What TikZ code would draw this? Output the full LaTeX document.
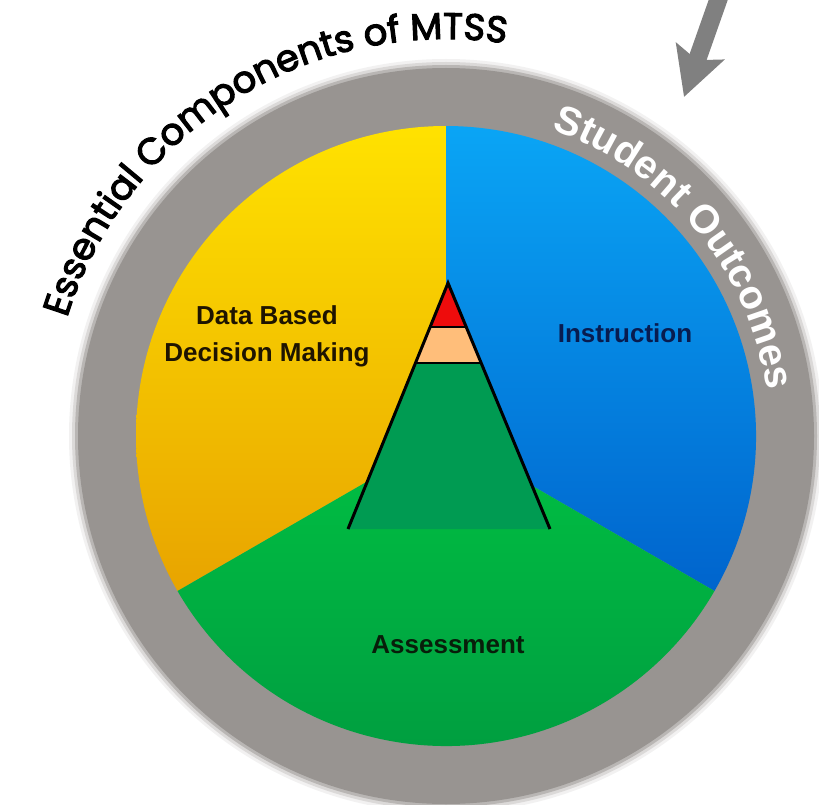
\documentclass[tikz,border=0pt]{standalone}
\usepackage{fontspec}
\setmainfont{Liberation Sans}
\newfontfamily\titlefont{Poppins}[FakeBold=3]
\usetikzlibrary{calc,arrows.meta,decorations.text}

% Define colors
\definecolor{ringgray}{RGB}{152,148,145}
\definecolor{arrowgray}{RGB}{128,128,128}
\definecolor{dbtop}{RGB}{255,226,0}
\definecolor{dbbot}{RGB}{232,164,0}
\definecolor{intop}{RGB}{10,165,245}
\definecolor{inbot}{RGB}{0,100,205}
\definecolor{astop}{RGB}{0,192,66}
\definecolor{asbot}{RGB}{0,154,64}
\definecolor{tierone}{RGB}{0,155,82}
\definecolor{tiertwo}{RGB}{255,190,122}
\definecolor{tierthree}{RGB}{238,12,12}

\tikzset{
  label/.style={font=\fontsize{26pt}{37pt}\selectfont\bfseries, align=center},
  tierline/.style={black, line width=1.8pt},
}

\begin{document}
\begin{tikzpicture}[x=1pt,y=1pt]

	% Page and background
	\useasboundingbox (0,0) rectangle (819,-805);
	\fill[white] (0,0) rectangle (819,-805);

	\coordinate (C) at (446,-436);

	% Draw the gray ring with a soft edge
	\foreach \r/\o in {377/0.12, 374/0.25, 371/0.5} {
		\fill[ringgray, opacity=\o] (C) circle (\r);
	}
	\fill[ringgray] (C) circle (368);

	% Draw the three sectors
	\foreach \a/\b/\ct/\cb in {90/210/dbtop/dbbot, -30/90/intop/inbot, 210/330/astop/asbot} {
		\shade[top color=\ct, bottom color=\cb] (C) -- ([shift={(\a:310)}]C) arc[start angle=\a, end angle=\b, radius=310] -- cycle;
	}

	% Draw the pyramid
	\coordinate (apex) at (448,-283);
	\coordinate (bl) at (348,-529);
	\coordinate (br) at (550,-529);
	\coordinate (rl) at ($(apex)!0.179!(bl)$);
	\coordinate (rr) at ($(apex)!0.179!(br)$);
	\coordinate (ol) at ($(apex)!0.325!(bl)$);
	\coordinate (or) at ($(apex)!0.325!(br)$);
	\fill[tierone] (ol) -- (or) -- (br) -- (bl) -- cycle;
	\fill[tiertwo] (rl) -- (rr) -- (or) -- (ol) -- cycle;
	\fill[tierthree] (apex) -- (rr) -- (rl) -- cycle;
	\draw[tierline] (rl) -- (rr);
	\draw[tierline] (ol) -- (or);
	\draw[black, line width=3pt] (bl) -- (apex) -- (br);

	% Sector labels
	\node[label, text={rgb,255:red,30;green,20;blue,0}] (dbdm) at (267,-336) {Data Based\\Decision Making};
	\node[label, text={rgb,255:red,8;green,28;blue,80}] (instr) at (625,-333) {Instruction};
	\node[label, text={rgb,255:red,8;green,30;blue,10}] (assess) at (448,-645) {Assessment};

	% Texts along the ring
	\path[decorate, decoration={text along path, text align=center,
		text={|\titlefont\fontsize{37pt}{40pt}\selectfont|Essential Components of MTSS}}]
		([shift={(168:397)}]C) arc[start angle=168, end angle=76, radius=397];
	\path[decorate, decoration={text along path, text align=center,
		text={|\color{white}\bfseries\fontsize{40pt}{44pt}\selectfont|Student Outcomes}}]
		([shift={(74:324)}]C) arc[start angle=74, end angle=5, radius=324];

	% Draw the arrow
	\coordinate (arrtop) at (721,8);
	\coordinate (arrtip) at (684,-97);
	\draw[arrowgray, line width=18pt, -{Stealth[length=48pt 0 0, width=50pt 0 0, inset=9pt 0]}] (arrtop) -- (arrtip);

\end{tikzpicture}
\end{document}
